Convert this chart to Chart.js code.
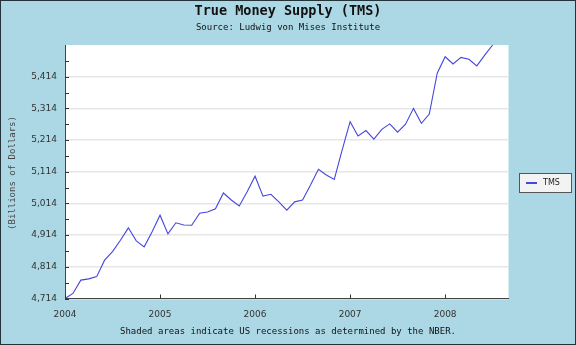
<!DOCTYPE html>
<html>
<head>
<meta charset="utf-8">
<title>True Money Supply (TMS)</title>
<script src="https://cdn.jsdelivr.net/npm/chart.js@4.4.0/dist/chart.umd.min.js"></script>
<style>
	html, body { margin: 0; padding: 0; background: #acd7e5; }
	#wrap { width: 576px; height: 345px; }
</style>
</head>
<body>
<div id="wrap"><canvas id="mycanvas1" width="576" height="345"></canvas></div>
<script>
// monthly TMS, billions of dollars, Jan 2004 onwards
var tms = [
	4714, 4730, 4772, 4776, 4783, 4835, 4862, 4898, 4937, 4896, 4877, 4925,
	4977, 4918, 4953, 4946, 4945, 4983, 4987, 4997, 5047, 5025, 5006, 5051,
	5100, 5037, 5043, 5019, 4993, 5019, 5025, 5072, 5122, 5104, 5090, 5183,
	5272, 5227, 5244, 5217, 5248, 5265, 5239, 5264, 5314, 5267, 5296, 5425,
	5477, 5454, 5475, 5469, 5448, 5482, 5514
];
var yearLabels = ["2004", "2005", "2006", "2007", "2008"];
var yearMonths = [0, 12, 24, 36, 48];
var yLabelValues = [4714, 4814, 4914, 5014, 5114, 5214, 5314, 5414];
var yMin = 4714;
var yMax = 5514;
var xMax = 56;

var points = [];
for (var i in tms) {
	points.push({ x: Number(i), y: tms[i] });
}

var fontMono = "'DejaVu Sans Mono', monospace";
var fontSans = "'DejaVu Sans', sans-serif";

var frame = {
	id: "frame",
	beforeDraw: function(chart) {
		var ctx = chart.ctx, a = chart.chartArea;
		ctx.save();
		ctx.fillStyle = "#acd7e5";
		ctx.fillRect(0, 0, chart.width, chart.height);
		ctx.fillStyle = "#ffffff";
		ctx.fillRect(a.left, a.top, a.right - a.left, a.bottom - a.top);
		ctx.restore();
	},
	afterDraw: function(chart) {
		var ctx = chart.ctx, a = chart.chartArea;
		var xs = chart.scales.x, ys = chart.scales.y;
		ctx.save();

		// short inward tick marks
		ctx.strokeStyle = "#333333";
		ctx.lineWidth = 1;
		ctx.beginPath();
		ys.ticks.forEach(function(t) {
			var y = Math.round(ys.getPixelForValue(t.value)) + 0.5;
			ctx.moveTo(a.left, y);
			ctx.lineTo(a.left + 4, y);
		});
		xs.ticks.forEach(function(t) {
			var x = Math.round(xs.getPixelForValue(t.value)) + 0.5;
			ctx.moveTo(x, a.bottom);
			ctx.lineTo(x, a.bottom - 4);
		});
		ctx.stroke();

		// titles
		ctx.fillStyle = "#111111";
		ctx.textAlign = "center";
		ctx.textBaseline = "middle";
		ctx.font = "bold 13.5px " + fontMono;
		ctx.fillText("True Money Supply (TMS)", 288, 11);
		ctx.font = "9px " + fontMono;
		ctx.fillText("Source: Ludwig von Mises Institute", 288, 28);
		ctx.fillText("Shaded areas indicate US recessions as determined by the NBER.", 288, 332);

		ctx.save();
		ctx.translate(13, 173);
		ctx.rotate(-Math.PI / 2);
		ctx.fillStyle = "#444444";
		ctx.fillText("(Billions of Dollars)", 0, 0);
		ctx.restore();

		// legend box
		var ds = chart.data.datasets[0];
		ctx.fillStyle = "#f3f3f3";
		ctx.fillRect(519.5, 173.5, 52, 19);
		ctx.strokeStyle = "#555555";
		ctx.strokeRect(519.5, 173.5, 52, 19);
		ctx.strokeStyle = ds.borderColor;
		ctx.lineWidth = 2;
		ctx.beginPath();
		ctx.moveTo(526, 183);
		ctx.lineTo(537, 183);
		ctx.stroke();
		ctx.fillStyle = "#222222";
		ctx.textAlign = "left";
		ctx.font = "8px " + fontSans;
		ctx.fillText(ds.label, 543, 183);

		// outer border
		ctx.strokeStyle = "#24333a";
		ctx.lineWidth = 1;
		ctx.strokeRect(0.5, 0.5, chart.width - 1, chart.height - 1);
		ctx.restore();
	}
};

var ctx = document.getElementById("mycanvas1");

var LineGraph = new Chart(ctx, {
	type: "line",
	data: {
		datasets: [
			{
				label: "TMS",
				fill: false,
				lineTension: 0,
				borderColor: "rgb(70, 70, 222)",
				backgroundColor: "rgb(70, 70, 222)",
				borderWidth: 1.1,
				pointRadius: 0,
				data: points
			}
		]
	},
	options: {
		responsive: false,
		animation: false,
		devicePixelRatio: 1,
		layout: { padding: { top: 45, right: 67.5, left: 0, bottom: 0 } },
		plugins: {
			legend: { display: false },
			title: { display: false },
			tooltip: { enabled: false }
		},
		scales: {
			x: {
				type: "linear",
				min: 0,
				max: xMax,
				afterFit: function(scale) { scale.height = 46.5; },
				afterBuildTicks: function(scale) {
					scale.ticks = yearMonths.map(function(m) { return { value: m }; });
				},
				grid: { display: true, color: "rgba(0,0,0,0)", drawTicks: false },
				border: { display: true, color: "#444444", width: 1 },
				ticks: {
					padding: 11,
					maxRotation: 0,
					autoSkip: false,
					color: "#333333",
					font: { family: fontSans, size: 9 },
					callback: function(value) {
						var k = yearMonths.indexOf(value);
						return k >= 0 ? yearLabels[k] : "";
					}
				}
			},
			y: {
				min: yMin,
				max: yMax,
				afterFit: function(scale) { scale.width = 65; },
				afterBuildTicks: function(scale) {
					var t = [];
					yLabelValues.forEach(function(v) {
						t.push({ value: v });
						t.push({ value: v + 50 });
					});
					scale.ticks = t;
				},
				grid: {
					drawTicks: false,
					lineWidth: 1.5,
					color: function(c) {
						return yLabelValues.indexOf(c.tick.value) >= 0 ? "#e6e6e6" : "rgba(0,0,0,0)";
					}
				},
				border: { display: true, color: "#444444", width: 1 },
				ticks: {
					padding: 8,
					autoSkip: false,
					color: "#333333",
					font: { family: fontSans, size: 9 },
					callback: function(value) {
						return yLabelValues.indexOf(value) >= 0 ? value.toLocaleString("en-US") : "";
					}
				}
			}
		}
	},
	plugins: [frame]
});
</script>
</body>
</html>
